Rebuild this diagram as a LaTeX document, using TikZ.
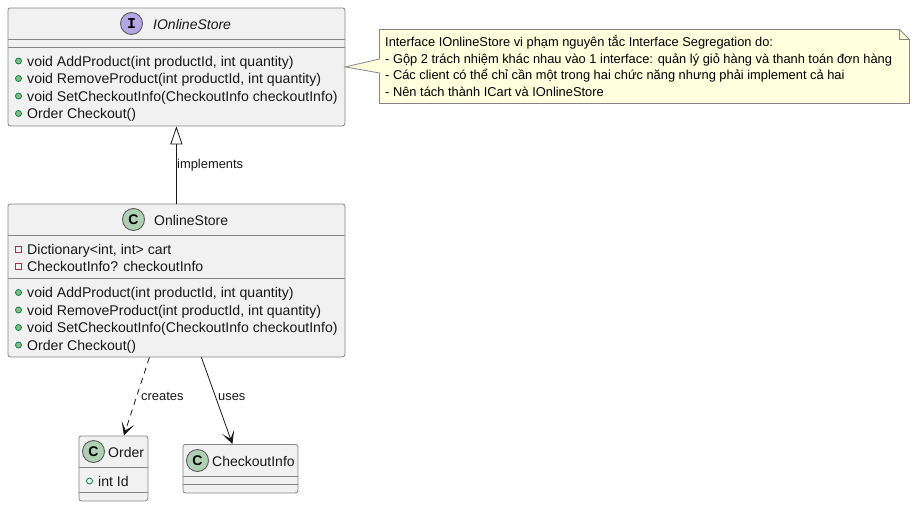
\documentclass[tikz,border=0pt]{standalone}
\usepackage{fontspec}
\setmainfont{Liberation Sans}
\newfontfamily\monobold{Liberation Mono}[BoldFont={Liberation Mono Bold}]
\usetikzlibrary{arrows.meta,calc}
\definecolor{boxfill}{HTML}{F1F1F1}
\definecolor{boxline}{HTML}{858585}
\definecolor{notefill}{HTML}{FEFFDD}
\definecolor{ifacecirc}{HTML}{B4A7E5}
\definecolor{classcirc}{HTML}{ADD1B2}
\definecolor{pubfill}{HTML}{84BE84}
\definecolor{publine}{HTML}{038048}
\definecolor{privline}{HTML}{C82930}
\definecolor{ink}{HTML}{181818}
\tikzset{
  x=1pt,y=-1pt,
  umlbox/.style={draw=boxline,fill=boxfill,line width=0.8pt,rounded corners=2.5pt,inner sep=0,anchor=north west},
  sepline/.style={draw=boxline,line width=0.8pt},
  member/.style={anchor=west,inner sep=0,text=ink,text height=10pt,text depth=3pt,font=\fontsize{14.1}{16}\selectfont},
  title/.style={anchor=west,inner sep=0,text=ink,font=\fontsize{14}{16}\selectfont},
  edgelabel/.style={anchor=west,inner sep=0,text=ink,text height=10pt,text depth=3pt,font=\fontsize{12.9}{14}\selectfont},
  notetext/.style={anchor=north west,inner sep=0,align=left,text=black,font=\fontsize{12.85}{16.5}\selectfont},
  badge/.style={circle,draw=ink!70!white,line width=0.9pt,minimum size=22pt,inner sep=0},
  pubmark/.style={circle,draw=publine,fill=pubfill,line width=0.8pt,minimum size=6pt,inner sep=0},
  fieldmark/.style={circle,draw=publine,fill=none,line width=0.8pt,minimum size=6pt,inner sep=0},
  privmark/.style={rectangle,draw=privline,fill=none,line width=0.8pt,minimum size=6pt,inner sep=0},
  conn/.style={draw=ink,line width=0.8pt},
  opentip/.style={-{Stealth[length=13pt,width=13pt,inset=7.5pt]}},
}
\newcommand{\memberrow}[5]{% mark style, name, mark x, y, text
  \node[#1] (#2m) at (#3,#4) {};
  \node[member] (#2t) at (27,#4+1.5) {#5};
}
\begin{document}
\begin{tikzpicture}
\useasboundingbox (0,0) rectangle (915,506);
\node[umlbox,minimum width=337pt,minimum height=118pt] (iface) at (7.5,7.5) {};
\draw[sepline] (7.5,39.5) -- (344.5,39.5);
\draw[sepline] (7.5,47.5) -- (344.5,47.5);
\node[badge,fill=ifacecirc] (ifaceb) at (131.5,23.5) {\monobold\bfseries\fontsize{15}{15}\selectfont I};
\node[title,font=\fontsize{14}{16}\selectfont\itshape] (ifacet) at (153,24) {IOnlineStore};
\memberrow{pubmark}{ia}{18.5}{61}{void AddProduct(int productId, int quantity)}
\memberrow{pubmark}{ib}{18.5}{78.5}{void RemoveProduct(int productId, int quantity)}
\memberrow{pubmark}{ic}{18.5}{96}{void SetCheckoutInfo(CheckoutInfo checkoutInfo)}
\memberrow{pubmark}{id}{18.5}{113.5}{Order Checkout()}

\node[umlbox,minimum width=337pt,minimum height=153pt] (store) at (7.5,203.5) {};
\draw[sepline] (7.5,235.5) -- (344.5,235.5);
\draw[sepline] (7.5,278.5) -- (344.5,278.5);
\node[badge,fill=classcirc] (storeb) at (133.5,219.5) {\bfseries\fontsize{14}{14}\selectfont C};
\node[title] (storet) at (154,220) {OnlineStore};
\memberrow{privmark}{sa}{18.5}{249.5}{Dictionary<int, int> cart}
\memberrow{privmark}{sb}{18.5}{266.5}{CheckoutInfo? checkoutInfo}
\memberrow{pubmark}{sc}{18.5}{292.5}{void AddProduct(int productId, int quantity)}
\memberrow{pubmark}{sd}{18.5}{310}{void RemoveProduct(int productId, int quantity)}
\memberrow{pubmark}{se}{18.5}{327.5}{void SetCheckoutInfo(CheckoutInfo checkoutInfo)}
\memberrow{pubmark}{sf}{18.5}{345}{Order Checkout()}

\node[umlbox,minimum width=69pt,minimum height=65pt] (order) at (78.5,435.5) {};
\draw[sepline] (78.5,467.5) -- (147.5,467.5);
\draw[sepline] (78.5,492.5) -- (147.5,492.5);
\node[badge,fill=classcirc] (orderb) at (93.5,451.5) {\bfseries\fontsize{14}{14}\selectfont C};
\node[title] (ordert) at (108,452) {Order};
\node[fieldmark] (oam) at (89.5,481) {};
\node[member] (oat) at (98,482.5) {int Id};

\node[umlbox,minimum width=115pt,minimum height=48.5pt] (info) at (182.5,444) {};
\draw[sepline] (182.5,476.5) -- (297.5,476.5);
\draw[sepline] (182.5,484.5) -- (297.5,484.5);
\node[badge,fill=classcirc] (infob) at (197.5,460.5) {\bfseries\fontsize{14}{14}\selectfont C};
\node[title] (infot) at (212,461) {CheckoutInfo};

% note body, with its pointer reaching the interface box
\path[draw=boxline,fill=notefill,line width=0.8pt]
  (379.5,29.5) -- (899.5,29.5) -- (909.5,39.5) -- (909.5,103.5) -- (379.5,103.5)
  -- (379.5,73) -- (iface.east) -- (379.5,59) -- cycle;
\draw[draw=boxline,line width=0.8pt] (899.5,29.5) -- (899.5,39.5) -- (909.5,39.5);
\node[notetext] (note) at (385,35.5) {Interface IOnlineStore vi phạm nguyên tắc Interface Segregation do:\\
- Gộp 2 trách nhiệm khác nhau vào 1 interface: quản lý giỏ hàng và thanh toán đơn hàng\\
- Các client có thể chỉ cần một trong hai chức năng nhưng phải implement cả hai\\
- Nên tách thành ICart và IOnlineStore};

% connectors
\draw[conn,-{Triangle[open,length=18pt,width=12pt,fill=white]}] (store.north) -- (iface.south);
\node[edgelabel] (limpl) at (177,165) {implements};
\draw[conn,dashed,dash pattern=on 6pt off 5pt,opentip] ([xshift=-27pt]store.south) -- ([xshift=10.5pt]order.north);
\node[edgelabel] (lcreates) at (141,397) {creates};
\draw[conn,opentip] ([xshift=25pt]store.south) -- ([xshift=-8pt]info.north);
\node[edgelabel] (luses) at (218,397) {uses};
\end{tikzpicture}
\end{document}
